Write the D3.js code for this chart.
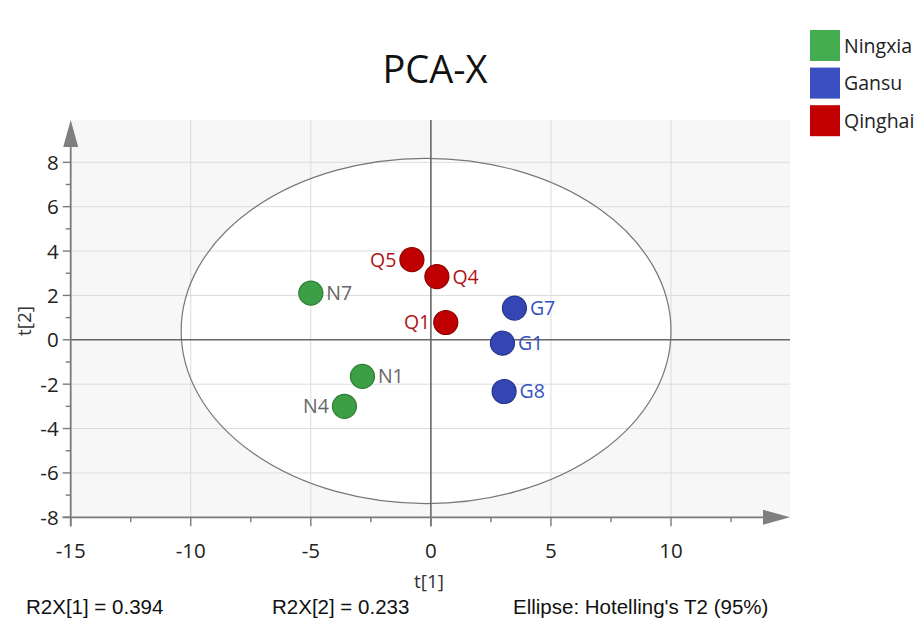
<!DOCTYPE html>
<html>
<head>
<meta charset="utf-8">
<script src="https://cdn.jsdelivr.net/npm/d3@7/dist/d3.min.js"></script>
<style>
  html, body { margin: 0; padding: 0; background: #fff; }
  svg { display: block; }
</style>
</head>
<body>
<script>
// PCA score plot: t[1] vs t[2] for samples from three regions
const groups = ["Ningxia", "Gansu", "Qinghai"];
const groupFill = ["#3c9f45", "#3446b4", "#c00000"];
const groupStroke = ["#2e7d35", "#27358c", "#8e0000"];
const groupLegend = ["#43ad4f", "#3a4fc1", "#c20000"];
const groupLabel = ["#666666", "#3352c2", "#b01414"];

const sampleNames = ["N7", "N1", "N4", "G7", "G1", "G8", "Q5", "Q4", "Q1"];
const sampleGroup = [0, 0, 0, 1, 1, 1, 2, 2, 2];
const t1 = [-5.0, -2.85, -3.6, 3.48, 2.98, 3.05, -0.79, 0.25, 0.62];
const t2 = [2.1, -1.65, -3.0, 1.43, -0.15, -2.33, 3.61, 2.85, 0.78];
const labelSide = [1, 1, -1, 1, 1, 1, -1, 1, -1];

const xTicks = [-15, -10, -5, 0, 5, 10];
const yTicks = [-8, -6, -4, -2, 0, 2, 4, 6, 8];
const xMinor = [-12.5, -7.5, -2.5, 2.5, 7.5, 12.5];
const yMinor = [-7, -5, -3, -1, 1, 3, 5, 7];

// Hotelling's T2 (95%) ellipse: centre and semi-axes in score units
const ellipseCentre = [-0.2, 0.4];
const ellipseRadii = [10.2, 7.78];

const r2x = [0.394, 0.233];

const W = 924, H = 620;
const svg = d3.select("body").append("svg").attr("width", W).attr("height", H);

const x = d3.scaleLinear().domain([-15, 10]).range([70.7, 671]);
const y = d3.scaleLinear().domain([-8, 8]).range([517.3, 162.3]);
const xMaxPx = 790, yTopPx = 120;

const uiFont = "'Open Sans', 'Noto Sans', sans-serif";
const arial = "'Liberation Sans', Arial, sans-serif";

// plot background
svg.append("rect")
  .attr("x", x(-15)).attr("y", yTopPx)
  .attr("width", xMaxPx - x(-15)).attr("height", y(-8) - yTopPx)
  .attr("fill", "#f7f7f7");

// ellipse interior (white), outline drawn later on top of the grid
svg.append("ellipse")
  .attr("cx", x(ellipseCentre[0])).attr("cy", y(ellipseCentre[1]))
  .attr("rx", x(ellipseRadii[0]) - x(0))
  .attr("ry", y(0) - y(ellipseRadii[1]))
  .attr("fill", "#ffffff");

// grid
const grid = svg.append("g");
xTicks.filter(v => v !== -15 && v !== 0).forEach(v => {
  grid.append("line").attr("x1", x(v)).attr("x2", x(v))
    .attr("y1", yTopPx).attr("y2", y(-8))
    .attr("stroke", "#dcdcdc").attr("stroke-width", 1);
});
yTicks.filter(v => v !== -8 && v !== 0).forEach(v => {
  grid.append("line").attr("x1", x(-15)).attr("x2", xMaxPx)
    .attr("y1", y(v)).attr("y2", y(v))
    .attr("stroke", "#dcdcdc").attr("stroke-width", 1);
});

// ellipse outline
svg.append("ellipse")
  .attr("cx", x(ellipseCentre[0])).attr("cy", y(ellipseCentre[1]))
  .attr("rx", x(ellipseRadii[0]) - x(0))
  .attr("ry", y(0) - y(ellipseRadii[1]))
  .attr("fill", "none")
  .attr("stroke", "#777").attr("stroke-width", 1.2);

// zero lines
svg.append("line").attr("x1", x(0)).attr("x2", x(0))
  .attr("y1", yTopPx).attr("y2", y(-8) + 9)
  .attr("stroke", "#666").attr("stroke-width", 1.6);
svg.append("line").attr("x1", x(-15)).attr("x2", xMaxPx)
  .attr("y1", y(0)).attr("y2", y(0))
  .attr("stroke", "#666").attr("stroke-width", 1.6);

// axes
const axisColor = "#7a7a7a";
const axes = svg.append("g");
axes.append("line").attr("x1", x(-15)).attr("x2", x(-15))
  .attr("y1", yTopPx + 10).attr("y2", y(-8) + 9)
  .attr("stroke", axisColor).attr("stroke-width", 1.8);
axes.append("line").attr("x1", x(-15) - 8).attr("x2", xMaxPx - 10)
  .attr("y1", y(-8)).attr("y2", y(-8))
  .attr("stroke", axisColor).attr("stroke-width", 1.8);
// arrow heads
axes.append("path")
  .attr("d", `M${x(-15)},${yTopPx} L${x(-15) - 7.5},${yTopPx + 27} L${x(-15) + 7.5},${yTopPx + 27} Z`)
  .attr("fill", "#7f7f7f");
axes.append("path")
  .attr("d", `M${xMaxPx},${y(-8)} L${xMaxPx - 27},${y(-8) - 7.5} L${xMaxPx - 27},${y(-8) + 7.5} Z`)
  .attr("fill", "#7f7f7f");

// ticks
yTicks.forEach(v => {
  axes.append("line").attr("x1", x(-15) - 8).attr("x2", x(-15))
    .attr("y1", y(v)).attr("y2", y(v)).attr("stroke", axisColor).attr("stroke-width", 1.4);
});
yMinor.forEach(v => {
  axes.append("line").attr("x1", x(-15) - 5).attr("x2", x(-15))
    .attr("y1", y(v)).attr("y2", y(v)).attr("stroke", axisColor).attr("stroke-width", 1.4);
});
xTicks.forEach(v => {
  axes.append("line").attr("x1", x(v)).attr("x2", x(v))
    .attr("y1", y(-8)).attr("y2", y(-8) + 9).attr("stroke", axisColor).attr("stroke-width", 1.4);
});
xMinor.forEach(v => {
  axes.append("line").attr("x1", x(v)).attr("x2", x(v))
    .attr("y1", y(-8)).attr("y2", y(-8) + 5).attr("stroke", axisColor).attr("stroke-width", 1.4);
});

// tick labels
axes.selectAll(".ylab").data(yTicks).enter().append("text")
  .attr("x", x(-15) - 12).attr("y", v => y(v) + 7.5)
  .attr("text-anchor", "end")
  .attr("font-family", uiFont).attr("font-size", 20.5).attr("fill", "#222")
  .text(v => v);
axes.selectAll(".xlab").data(xTicks).enter().append("text")
  .attr("x", v => x(v)).attr("y", 557.5)
  .attr("text-anchor", "middle")
  .attr("font-family", uiFont).attr("font-size", 20.5).attr("fill", "#222")
  .text(v => v);

// axis titles
svg.append("text").attr("x", 429).attr("y", 588)
  .attr("text-anchor", "middle")
  .attr("font-family", uiFont).attr("font-size", 19).attr("fill", "#333")
  .text("t[1]");
svg.append("text")
  .attr("transform", "translate(31,321) rotate(-90)")
  .attr("text-anchor", "middle")
  .attr("font-family", uiFont).attr("font-size", 19).attr("fill", "#333")
  .text("t[2]");

// title
svg.append("text").attr("x", 435).attr("y", 83)
  .attr("text-anchor", "middle")
  .attr("font-family", uiFont).attr("font-size", 38).attr("fill", "#111")
  .text("PCA-X");

// points
const samples = sampleNames.map((n, i) => ({
  name: n, g: sampleGroup[i], t1: t1[i], t2: t2[i], side: labelSide[i]
}));
const pts = svg.append("g");
pts.selectAll("circle").data(samples).enter().append("circle")
  .attr("cx", d => x(d.t1)).attr("cy", d => y(d.t2)).attr("r", 12)
  .attr("fill", d => groupFill[d.g])
  .attr("stroke", d => groupStroke[d.g]).attr("stroke-width", 1.2);
pts.selectAll("text").data(samples).enter().append("text")
  .attr("x", d => x(d.t1) + d.side * 15.5)
  .attr("y", d => y(d.t2) + 7)
  .attr("text-anchor", d => d.side > 0 ? "start" : "end")
  .attr("font-family", uiFont).attr("font-size", 19.5)
  .attr("fill", d => groupLabel[d.g])
  .text(d => d.name);

// legend
const leg = svg.append("g");
groups.forEach((g, i) => {
  leg.append("rect").attr("x", 810).attr("y", 30 + i * 37.6)
    .attr("width", 30).attr("height", 31)
    .attr("fill", groupLegend[i]);
  leg.append("text").attr("x", 844).attr("y", 30 + i * 37.6 + 22.5)
    .attr("font-family", uiFont).attr("font-size", 19.5).attr("fill", "#222")
    .text(g);
});

// footer statistics
const foot = svg.append("g").attr("font-family", arial).attr("font-size", 20.5).attr("fill", "#111");
foot.append("text").attr("x", 26).attr("y", 614).text(`R2X[1] = ${r2x[0].toFixed(3)}`);
foot.append("text").attr("x", 272).attr("y", 614).text(`R2X[2] = ${r2x[1].toFixed(3)}`);
foot.append("text").attr("x", 513).attr("y", 614).text("Ellipse: Hotelling's T2 (95%)");
</script>
</body>
</html>
